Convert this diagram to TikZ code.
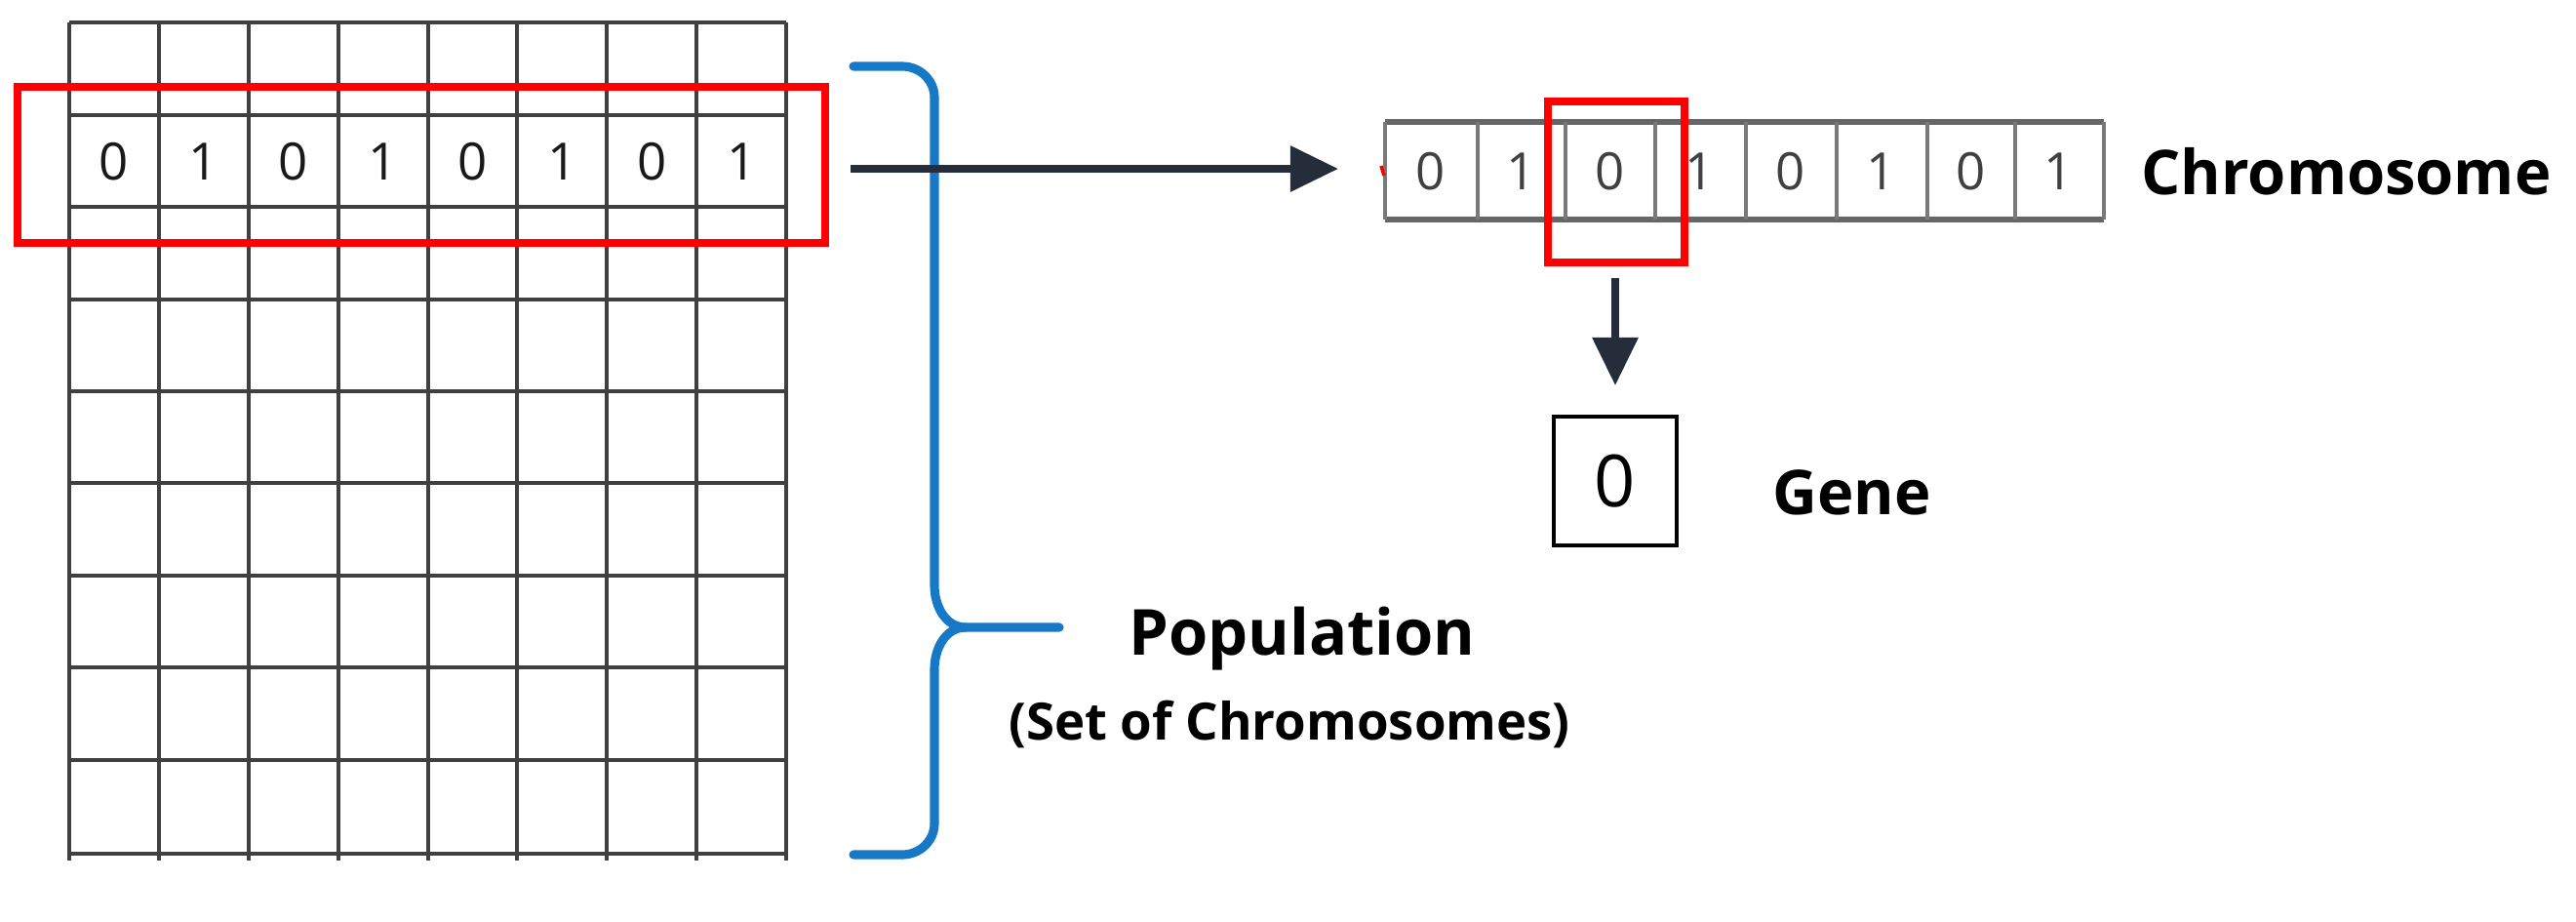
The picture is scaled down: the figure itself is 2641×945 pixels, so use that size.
\documentclass[tikz,border=0pt]{standalone}
\usepackage{fontspec}
\setmainfont{Open Sans}
\usetikzlibrary{arrows.meta}
\definecolor{navy}{HTML}{262D3A}
\definecolor{bblue}{HTML}{1778C8}
\definecolor{gridc}{HTML}{404040}
\begin{document}
\begin{tikzpicture}[x=0.01cm,y=-0.01cm,
  gl/.style={gridc,line width=1.1pt},
  dig/.style={font=\fontsize{15}{15}\selectfont, text=black!90},
  cdig/.style={font=\fontsize{15}{15}\selectfont\color{black!75}},
  redbox/.style={draw=red,line width=2pt},
  arr/.style={navy,line width=2.2pt,-{Triangle[length=14pt,width=13pt]}},
  lbl/.style={font=\bfseries\fontsize{18}{18}\selectfont}]
\useasboundingbox (0,0) rectangle (2641,945);
% population grid
\foreach \x in {71,163,255,347,439,530,622,714,806}
  \draw[gl] (\x,23) -- (\x,882);
\foreach \y in {23,118,212,307,401,495,590,684,779,875}
  \draw[gl] (71,\y) -- (806,\y);
\foreach \d [count=\i] in {0,1,0,1,0,1,0,1}
  \node[dig] (g\i) at ({71+92*(\i-0.5)},166) {\d};
\draw[redbox] (18,89) rectangle (846,249);
% brace
\draw[bblue,line width=2.6pt,line cap=round]
  (875,68) -- (925,68) to[out=0,in=90] (958,100) -- (958,600)
  to[out=270,in=180] (990,643) -- (1086,643);
\draw[bblue,line width=2.6pt,line cap=round]
  (875,876) -- (925,876) to[out=0,in=270] (958,844) -- (958,686)
  to[out=90,in=180] (990,643);
\node[font=\bfseries\fontsize{18.5}{18.5}\selectfont] (pop) at (1335,655) {Population};
\node[font=\bfseries\fontsize{15}{15}\selectfont] (set) at (1322,742) {(Set of Chromosomes)};
% chromosome
\draw[gridc!80,line width=1.8pt] (1420,125) -- (2157,125);
\draw[gridc!80,line width=1.8pt] (1420,225) -- (2157,225);
\foreach \x in {1420,1515,1605,1697,1790,1883,1976,2066,2157}
  \draw[gridc!70,line width=0.9pt] (\x,125) -- (\x,225);
\foreach \d/\x [count=\i] in {0/1467,1/1560,0/1651,1/1743,0/1836,1/1929,0/2021,1/2111}
  \node[cdig] (c\i) at (\x,176) {\d};
\node[lbl,anchor=west] (chrom) at (2183,176) {Chromosome};
\draw[redbox] (1587,104) rectangle (1727,269);
\draw[red,line width=1pt] (1416,170) -- (1419,180);
% main arrow
\coordinate (a0) at (872,173);
\coordinate (a1) at (1372,173);
\draw[arr] (a0) -- (a1);
% gene
\node[draw=black,line width=1.1pt,minimum width=1.26cm,minimum height=1.32cm,inner sep=0,
  font=\fontsize{21}{21}\selectfont] (gene) at (1656,493) {0};
\coordinate (d0) at (1656,285);
\draw[arr] (d0) -- ([yshift=0.3cm]gene.north);
\node[lbl,anchor=west] (genel) at (1805,505) {Gene};
\end{tikzpicture}
\end{document}
